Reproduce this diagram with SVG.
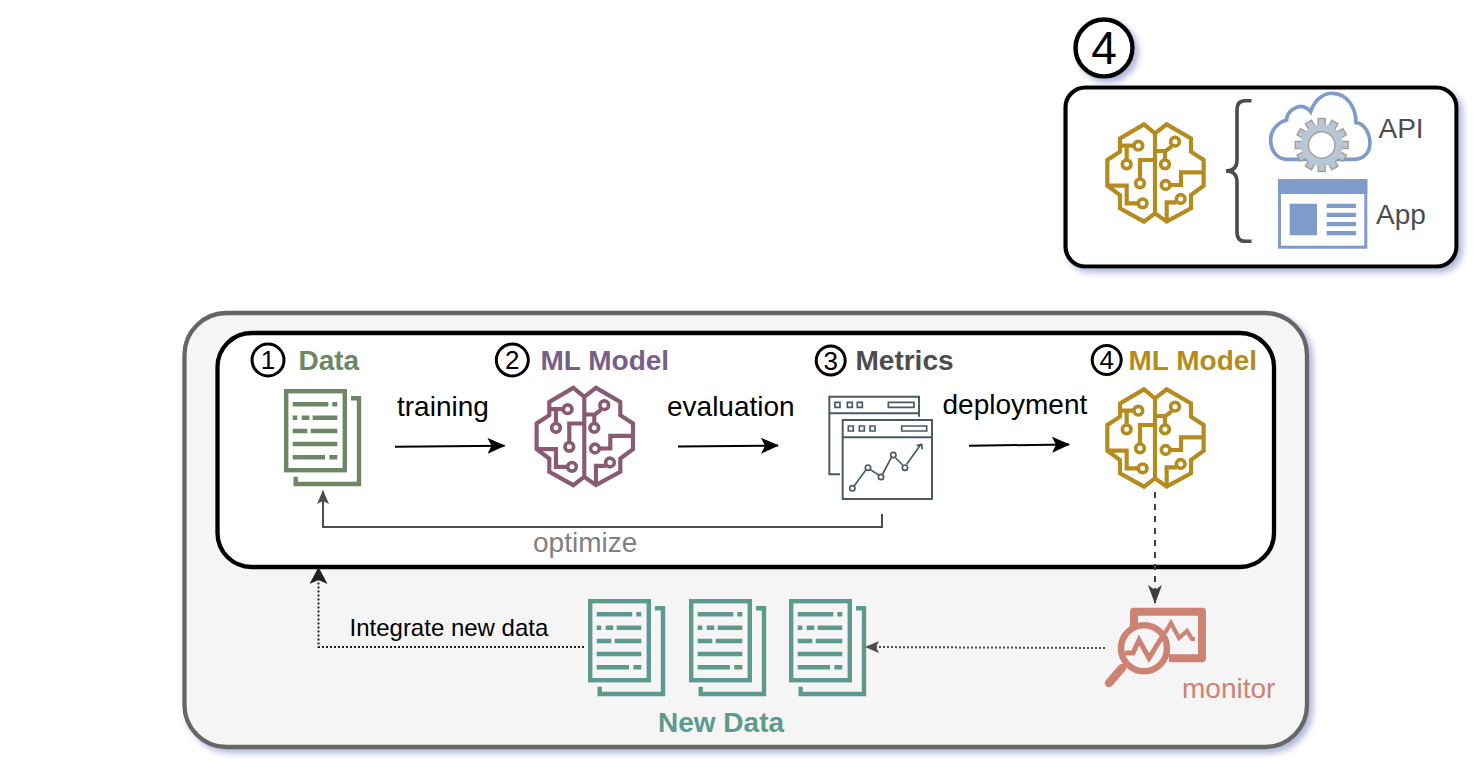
<svg xmlns="http://www.w3.org/2000/svg" xmlns:xlink="http://www.w3.org/1999/xlink" width="1482" height="776" viewBox="0 0 1482 776">
<style>
text{font-family:"Liberation Sans",Arial,sans-serif;font-size:28px}
.b{font-weight:bold}
.num{font-size:26px;text-anchor:middle;fill:#000}
.ring{fill:#fff;stroke:#000;stroke-width:3}
.ic{fill:none;stroke:currentColor}
.conn{fill:none;stroke-width:2}
</style>
<defs>
<filter id="sh" x="-5%" y="-10%" width="110%" height="120%"><feDropShadow dx="4" dy="4" stdDeviation="3" flood-color="#9098c8" flood-opacity=".7"/></filter>
<filter id="shc" x="-30%" y="-30%" width="160%" height="160%"><feDropShadow dx="4" dy="4" stdDeviation="3" flood-color="#9098c8" flood-opacity=".7"/></filter>
<marker id="ab" viewBox="0 0 18 16" markerWidth="18" markerHeight="16" refX="17" refY="8" orient="auto" markerUnits="userSpaceOnUse"><path d="M0,0 L18,8 L0,16 L4,8Z" fill="#000"/></marker>
<marker id="ag" viewBox="0 0 14 12" markerWidth="14" markerHeight="12" refX="13" refY="6" orient="auto" markerUnits="userSpaceOnUse"><path d="M0,0 L14,6 L0,12 L3,6Z" fill="#4d4d4d"/></marker>
<marker id="ak" viewBox="0 0 17 18" markerWidth="17" markerHeight="18" refX="16" refY="9" orient="auto" markerUnits="userSpaceOnUse"><path d="M0,0 L17,9 L0,18 L4,9Z" fill="#222"/></marker>
<marker id="ad" viewBox="0 0 19 14" markerWidth="19" markerHeight="14" refX="18" refY="7" orient="auto" markerUnits="userSpaceOnUse"><path d="M0,0 L19,7 L0,14 L5,7Z" fill="#404040"/></marker>
<g id="brain" class="ic" stroke-width="12.5" stroke-linejoin="miter">
<path d="M180,55 147,28 75,70V110L37,135V212L75,240V280L147,320 180,295 215,320 288,280V240L326,212V135L288,110V70L215,28ZM180,55V295"/>
<path d="M118,92H80M95,92V136M230,94 212,108H180M210,108V136M180,135H135V193M37,212H95V265H130M326,172H258V210H225M215,318V262H245"/>
<g stroke-width="11"><circle cx="130" cy="92" r="13"/><circle cx="95" cy="148" r="13"/><circle cx="240" cy="80" r="13"/><circle cx="210" cy="148" r="13"/><circle cx="135" cy="205" r="13"/><circle cx="143" cy="265" r="13"/><circle cx="212" cy="210" r="13"/><circle cx="257" cy="252" r="13"/></g>
</g>
<g id="doc" class="ic" stroke-width="4.4">
<rect x="2.2" y="2.2" width="58.6" height="79"/>
<path d="M67,9.3H75V95H11.7V87.7"/>
<path d="M8.7,15.3H44.3M48.3,15.3H53.3M8.7,28.7H13.3M17.7,28.7H25.3M28.7,28.7H53.3M8.7,42H23.3M26.7,42H53.3M8.7,55H53.3M8.7,68.3H41M45.3,68.3H53.3"/>
</g>
<g id="gear"><rect x="-3.5" y="-26.5" width="7" height="53"/><rect x="-3.5" y="-26.5" width="7" height="53" transform="rotate(30)"/><rect x="-3.5" y="-26.5" width="7" height="53" transform="rotate(60)"/><rect x="-3.5" y="-26.5" width="7" height="53" transform="rotate(90)"/><rect x="-3.5" y="-26.5" width="7" height="53" transform="rotate(120)"/><rect x="-3.5" y="-26.5" width="7" height="53" transform="rotate(150)"/></g>
</defs>

<g id="main-container"><rect x="184.5" y="313" width="1122.5" height="434" rx="42" fill="#f5f5f5" stroke="#666" stroke-width="4.3" filter="url(#sh)"/></g>
<g id="pipeline-box"><rect x="217.5" y="333" width="1056.5" height="234" rx="34" fill="#fff" stroke="#000" stroke-width="4.3"/></g>

<g id="deploy-badge"><circle cx="1104" cy="48" r="28.5" fill="#fff" stroke="#000" stroke-width="4.5" filter="url(#shc)"/><text x="1104" y="64" text-anchor="middle" style="font-size:46px">4</text></g>
<g id="deploy-box">
<rect x="1065.5" y="87.5" width="391" height="179" rx="20" fill="#fff" stroke="#000" stroke-width="4.2" filter="url(#sh)"/>
<use xlink:href="#brain" href="#brain" transform="translate(1095,115) scale(.3333)" style="color:#b58b1e"/>
<path d="M1251.5,100.7H1245Q1237,100.7 1237,110V160Q1237,171 1226,171Q1237,171 1237,182V232Q1237,241.3 1245,241.3H1251.5" fill="none" stroke="#4d4d4d" stroke-width="3.6"/>
</g>
<g id="api">
<path transform="translate(1060,10) scale(.3333)" d="M700,448H680C650,448 632,420 632,390C632,355 660,335 680,330C680,305 710,285 730,290C745,295 752,305 752,305C765,265 795,248 820,250C860,252 888,290 888,338C913,340 930,370 930,400C930,430 908,448 880,448Z" fill="#fff" stroke="#7f9bc9" stroke-width="11"/>
<g transform="translate(1321.7,145)"><use xlink:href="#gear" href="#gear" fill="#b8c7d3" stroke="#a0a0a0" stroke-width="1.4"/><circle r="21" fill="#b8c7d3"/><circle r="13.2" fill="#fff" stroke="#a0a0a0" stroke-width="1.4"/></g>
<text x="1378.5" y="138" fill="#4d4d4d">API</text>
</g>
<g id="app">
<rect x="1279.5" y="180.5" width="86.3" height="66.7" fill="#fff" stroke="#7f9bc9" stroke-width="3"/>
<rect x="1278" y="179" width="89.3" height="15" fill="#7f9bc9"/>
<rect x="1289.7" y="203.7" width="27.3" height="31.6" fill="#7f9bc9"/>
<path d="M1326.7,205.9H1356M1326.7,214.9H1356M1326.7,224.1H1356M1326.7,233.1H1356" stroke="#7f9bc9" stroke-width="4.3"/>
<text x="1376" y="224" fill="#4d4d4d">App</text>
</g>

<g id="data"><circle class="ring" cx="268" cy="360" r="16"/><text class="num" x="268" y="369">1</text><text class="b" x="298.5" y="370" fill="#6d8764">Data</text><use xlink:href="#doc" href="#doc" x="284" y="389" style="color:#6d8764"/></g>
<g id="ml-model"><circle class="ring" cx="512.3" cy="360" r="16"/><text class="num" x="512.3" y="369">2</text><text class="b" x="540.5" y="370" fill="#76608a">ML Model</text><use xlink:href="#brain" href="#brain" transform="translate(524.3,378.5) scale(.3333)" style="color:#885b70"/></g>
<g id="metrics"><circle class="ring" cx="830.7" cy="360.5" r="14.5"/><text class="num" x="830.7" y="369.5">3</text><text class="b" x="855.5" y="370" fill="#4d4d4d">Metrics</text>
<g transform="translate(820,385) scale(.3333)" fill="none" stroke="#4a5a64" stroke-width="6">
<path d="M60,268H28V35H297V95M28,85H297"/>
<path d="M45,52h15v15h-15zM82,52h15v15h-15zM112,52h15v15h-15zM205,52h77v15h-77z" stroke-width="5"/>
<rect x="68" y="105" width="268" height="237" fill="#fff"/>
<path d="M68,157H336"/>
<path d="M85,123h15v15h-15zM118,123h15v15h-15zM150,123h15v15h-15zM245,123h75v15h-75z" stroke-width="5"/>
<path d="M103,302 138,254M151,254 176,270M188,267 214,218M227,219 248,240M260,238 303,178M290,182 305,178 307,193" stroke-width="5"/>
<g stroke-width="5"><circle cx="97" cy="310" r="8"/><circle cx="144" cy="248" r="8"/><circle cx="183" cy="276" r="8"/><circle cx="220" cy="210" r="8"/><circle cx="255" cy="248" r="8"/></g>
</g></g>
<g id="ml-model-deployed"><circle class="ring" cx="1106.7" cy="360" r="14.5"/><text class="num" x="1106.7" y="369">4</text><text class="b" x="1128.5" y="370" fill="#b58b1e">ML Model</text><use xlink:href="#brain" href="#brain" transform="translate(1095,380) scale(.3333)" style="color:#b58b1e"/></g>
<g id="new-data" style="color:#5e9a8c"><use xlink:href="#doc" href="#doc" x="588" y="599"/><use xlink:href="#doc" href="#doc" x="689" y="599"/><use xlink:href="#doc" href="#doc" x="789" y="599"/><text class="b" x="658" y="732" fill="#5e9a8c">New Data</text></g>
<g id="monitor" fill="none" stroke="#cd8373">
<path d="M1134,626V611.7H1202V658.3H1169" stroke-width="8" stroke-linejoin="round"/>
<path d="M1165,633 1171,623 1179,638 1187,631 1192,639H1195" stroke-width="4.2"/>
<circle cx="1144" cy="648.3" r="23" stroke-width="6.5" fill="#f5f5f5"/>
<path d="M1125,653H1133L1139,640 1149,658 1162,637" stroke-width="5"/>
<path d="M1122,668 1109,683" stroke-width="8.5" stroke-linecap="round"/>
<text x="1182" y="698" fill="#cd8373" stroke="none">monitor</text>
</g>

<g id="connectors">
<path class="conn" stroke="#000" d="M395,446.7 504.5,445.7" marker-end="url(#ab)"/>
<path class="conn" stroke="#000" d="M678,446.5 778,445.5" marker-end="url(#ab)"/>
<path class="conn" stroke="#000" d="M969,445.7 1069,444.5" marker-end="url(#ab)"/>
<path class="conn" stroke="#4d4d4d" d="M882,514V527H323V491" marker-end="url(#ag)"/>
<path class="conn" stroke="#404040" stroke-dasharray="6 6" d="M1155,492V603" marker-end="url(#ad)"/>
<path class="conn" stroke="#4d4d4d" stroke-dasharray="2 2" d="M1105,648 866,647" marker-end="url(#ag)"/>
<path class="conn" stroke="#222" stroke-dasharray="2 2" d="M584,647H318.5V568" marker-end="url(#ak)"/>
</g>
<g id="connector-labels">
<text x="397" y="416">training</text>
<text x="667" y="416">evaluation</text>
<text x="942.5" y="414">deployment</text>
<text x="533" y="552" fill="#808080">optimize</text>
<text x="349.5" y="636" style="font-size:24px">Integrate new data</text>
</g>
</svg>
